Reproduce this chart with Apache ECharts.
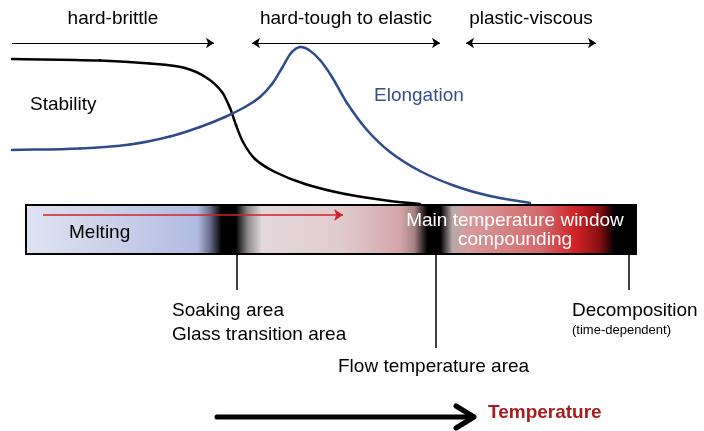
<!DOCTYPE html>
<html>
<head>
<meta charset="utf-8">
<script src="https://cdn.jsdelivr.net/npm/echarts@6/dist/echarts.min.js"></script>
<style>
html, body { margin: 0; padding: 0; background: #fff; }
#main { width: 704px; height: 431px; }
</style>
</head>
<body>
<div id="main"></div>
<script>
// curves (x = temperature, y = height, both in canvas units)
var stabilityX = [12, 100, 150, 185, 207, 222, 230, 236, 243, 255, 275, 305, 345, 390, 420];
var stabilityY = [59, 60.5, 63.5, 68, 78, 92, 108, 125, 142, 159, 172, 184, 194, 201, 204];
var elongX = [12, 80, 130, 170, 200, 225, 245, 260, 272, 282, 291, 300, 309, 320, 332, 347, 367, 390, 420, 455, 490, 530];
var elongY = [150, 148.5, 144.5, 136.5, 127, 117, 107, 97, 84, 68, 53, 47, 50, 60, 77, 103, 130, 152, 171, 186, 196, 203];

// temperature marks under the bar
var zoneNames = ['Soaking area\nGlass transition area', 'Flow temperature area', 'Decomposition'];
var zoneX = [237, 436, 629];
var zoneEnd = [290, 348, 290];

// behaviour ranges at the top
var phaseNames = ['hard-brittle', 'hard-tough to elastic', 'plastic-viscous'];
var phaseFrom = [12, 252, 466];
var phaseTo = [214, 440, 596];

// colour band of the bar: [temperature, colour]
var bandStops = [
  [26, '#dfe3f1'], [120, '#c9cfe9'], [198, '#b2bce2'], [210, '#6a7090'], [222, '#000000'],
  [236, '#000000'], [248, '#8a8a8a'], [262, '#e3d8dc'], [340, '#e0cbcf'], [400, '#d3a7a9'],
  [414, '#a88282'], [427, '#000000'], [440, '#000000'], [452, '#b8a8aa'], [468, '#d89a9b'],
  [540, '#d26a6c'], [575, '#d02226'], [598, '#8c1014'], [614, '#000000'], [636, '#000000']
];
var barStart = 26, barEnd = 636;

function pts(xs, ys) {
  return xs.map(function (x, i) { return [x, ys[i]]; });
}

// smooth curve y(x) through the points, one cubic piece per point pair
function curveSeries(xs, ys, color) {
  var n = xs.length;
  var slope = xs.map(function (x, i) {
    var a = Math.max(i - 1, 0), b = Math.min(i + 1, n - 1);
    return (ys[b] - ys[a]) / (xs[b] - xs[a]);
  });
  return {
    type: 'custom', z: 3,
    renderItem: function (params, api) {
      var i = params.dataIndex;
      if (i >= n - 1) return null;
      var h = (xs[i + 1] - xs[i]) / 3;
      var p1 = api.coord([xs[i], ys[i]]);
      var c1 = api.coord([xs[i] + h, ys[i] + slope[i] * h]);
      var c2 = api.coord([xs[i + 1] - h, ys[i + 1] - slope[i + 1] * h]);
      var p2 = api.coord([xs[i + 1], ys[i + 1]]);
      return {
        type: 'bezierCurve',
        shape: {
          x1: p1[0], y1: p1[1], x2: p2[0], y2: p2[1],
          cpx1: c1[0], cpy1: c1[1], cpx2: c2[0], cpy2: c2[1]
        },
        style: { stroke: color, lineWidth: 2.5, fill: null, lineCap: 'round' }
      };
    },
    data: pts(xs, ys)
  };
}

var chart = echarts.init(document.getElementById('main'));
var font = '"Liberation Sans", Arial, sans-serif';

var gradStops = bandStops.map(function (s) {
  return { offset: (s[0] - barStart) / (barEnd - barStart), color: s[1] };
});

var labelData = [];
phaseNames.forEach(function (n, i) {
  labelData.push({ value: [(phaseFrom[i] + phaseTo[i]) / 2, 19], name: n, label: { align: 'center' } });
});
labelData.push({ value: [30, 105], name: 'Stability', label: { align: 'left' } });
labelData.push({ value: [374, 96], name: 'Elongation', label: { align: 'left', color: '#34508e' } });
labelData.push({ value: [69, 233], name: 'Melting', label: { align: 'left' } });
labelData.push({ value: [515, 230], name: 'Main temperature window\ncompounding', label: { align: 'center', color: '#fff', lineHeight: 19 } });
labelData.push({ value: [172, 323], name: zoneNames[0], label: { align: 'left', lineHeight: 24 } });
labelData.push({ value: [338, 367], name: zoneNames[1], label: { align: 'left' } });
labelData.push({ value: [572, 311], name: zoneNames[2], label: { align: 'left' } });
labelData.push({ value: [572, 330], name: '(time-dependent)', label: { align: 'left', fontSize: 13 } });
labelData.push({ value: [488, 413], name: 'Temperature', label: { align: 'left', color: '#a81c1f', fontWeight: 'bold' } });

var option = {
  animation: false,
  grid: { left: 0, right: 0, top: 0, bottom: 0 },
  xAxis: { type: 'value', min: 0, max: 704, show: false },
  yAxis: { type: 'value', min: 0, max: 431, inverse: true, show: false },
  series: [
    {
      type: 'custom',
      z: 1,
      renderItem: function (params, api) {
        var p0 = api.coord([barStart, 205]);
        var p1 = api.coord([barEnd, 254]);
        return {
          type: 'rect',
          shape: { x: p0[0], y: p0[1], width: p1[0] - p0[0], height: p1[1] - p0[1] },
          style: { fill: new echarts.graphic.LinearGradient(0, 0, 1, 0, gradStops), stroke: '#000', lineWidth: 2 }
        };
      },
      data: [[barStart, barEnd]]
    },
    curveSeries(stabilityX, stabilityY, '#000'),
    curveSeries(elongX, elongY, '#2f4b8c'),
    {
      // range arrows on top
      type: 'lines', coordinateSystem: 'cartesian2d', z: 4,
      symbolSize: 8,
      lineStyle: { color: '#000', width: 1.2, opacity: 1 },
      data: phaseNames.map(function (n, i) {
        return { coords: [[phaseFrom[i], 43], [phaseTo[i], 43]], symbol: i == 0 ? ['none', 'arrow'] : ['arrow', 'arrow'] };
      })
    },
    {
      // ticks below the bar
      type: 'lines', coordinateSystem: 'cartesian2d', z: 4,
      symbol: ['none', 'none'],
      lineStyle: { color: '#000', width: 1.5, opacity: 1 },
      data: zoneX.map(function (x, i) { return { coords: [[x, 255], [x, zoneEnd[i]]] }; })
    },
    {
      // red arrow inside the bar
      type: 'lines', coordinateSystem: 'cartesian2d', z: 4,
      symbol: ['none', 'arrow'], symbolSize: 9,
      lineStyle: { color: '#d1232a', width: 1.5, opacity: 1 },
      data: [{ coords: [[43, 215], [343, 215]] }]
    },
    {
      // temperature arrow
      type: 'lines', coordinateSystem: 'cartesian2d', polyline: true, z: 4,
      symbol: ['none', 'none'],
      lineStyle: { color: '#000', width: 5, opacity: 1, join: 'round', cap: 'round' },
      data: [
        { coords: [[217, 417], [472, 417]] },
        { coords: [[456, 406], [474, 417], [456, 428]] }
      ]
    },
    {
      type: 'scatter', symbolSize: 0, z: 5,
      itemStyle: { opacity: 1 },
      label: {
        show: true, position: 'inside', formatter: '{b}', color: '#000',
        fontFamily: font, fontSize: 19, verticalAlign: 'middle'
      },
      data: labelData
    }
  ]
};
chart.setOption(option);
</script>
</body>
</html>
